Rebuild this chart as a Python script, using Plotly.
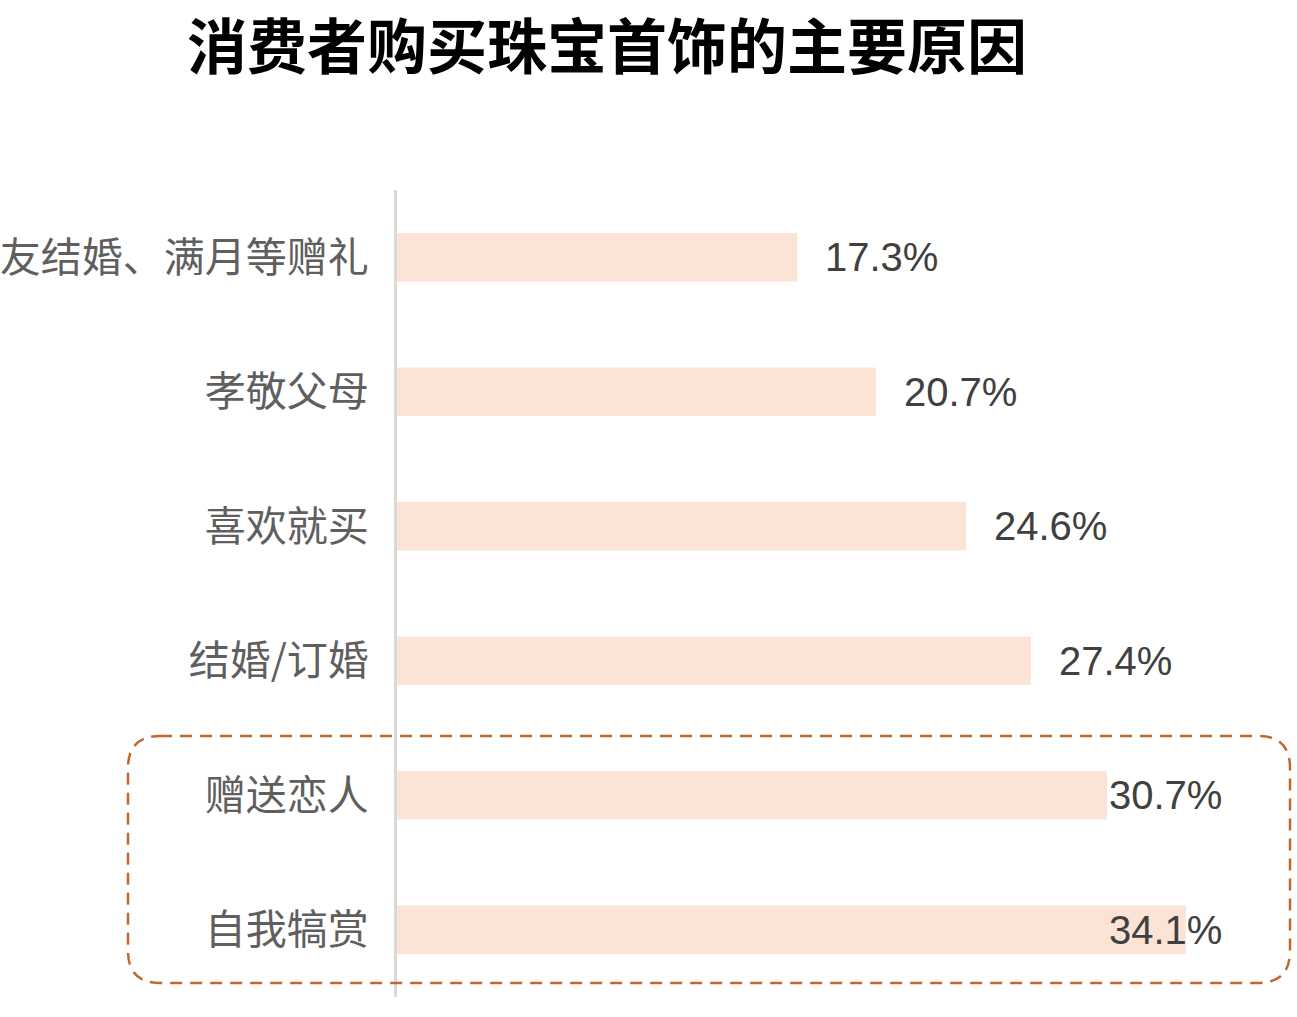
import plotly.graph_objects as go

categories = ["亲友结婚、满月等赠礼", "孝敬父母", "喜欢就买", "结婚/订婚", "赠送恋人", "自我犒赏"]
values = [17.3, 20.7, 24.6, 27.4, 30.7, 34.1]
value_labels = ["17.3%", "20.7%", "24.6%", "27.4%", "30.7%", "34.1%"]
title_text = "消费者购买珠宝首饰的主要原因"

W, H = 1297, 1017
L, R, T, B = 397, 21, 190, 20
XMAX = 38.0

fig = go.Figure()
fig.add_trace(go.Bar(
    y=categories, x=values, orientation="h",
    marker=dict(color="#FBE4D6", line=dict(width=0)),
    hoverinfo="skip",
))

# value labels: placed right of bar end, limited to a right boundary
pad = 1.12
label_max = 30.7
for c, v, t in zip(categories, values, value_labels):
    fig.add_annotation(
        x=min(v + pad, label_max), y=c, xref="x", yref="y",
        text=t, showarrow=False, xanchor="left", yanchor="middle",
        font=dict(family="Liberation Sans, Arial, sans-serif", size=40, color="#404040"),
    )

# dashed rounded box around the last two categories (paper coords)
pw = W - L - R
ph = H - T - B
def px_x(p):
    return (p - L) / pw
def px_y(p):
    return (H - B - p) / ph
x0, x1, y0, y1 = 128, 1290, 736, 983
r = 32
path = (
    f"M {px_x(x0 + r)},{px_y(y0)} "
    f"L {px_x(x1 - r)},{px_y(y0)} "
    f"Q {px_x(x1)},{px_y(y0)} {px_x(x1)},{px_y(y0 + r)} "
    f"L {px_x(x1)},{px_y(y1 - r)} "
    f"Q {px_x(x1)},{px_y(y1)} {px_x(x1 - r)},{px_y(y1)} "
    f"L {px_x(x0 + r)},{px_y(y1)} "
    f"Q {px_x(x0)},{px_y(y1)} {px_x(x0)},{px_y(y1 - r)} "
    f"L {px_x(x0)},{px_y(y0 + r)} "
    f"Q {px_x(x0)},{px_y(y0)} {px_x(x0 + r)},{px_y(y0)} Z"
)
fig.add_shape(type="path", path=path, xref="paper", yref="paper",
              line=dict(color="#C4672E", width=2.5, dash="12px,8px"), layer="above")

fig.update_layout(
    width=W, height=H,
    margin=dict(l=L, r=R, t=T, b=B, autoexpand=False),
    paper_bgcolor="white", plot_bgcolor="white",
    showlegend=False,
    bargap=0.64,
    title=dict(
        text=title_text, x=607 / W, xanchor="center", xref="container",
        y=1 - 48 / H, yanchor="middle", yref="container",
        font=dict(family="Noto Sans CJK SC", size=60, color="#000000", weight="bold"),
    ),
    xaxis=dict(range=[0, XMAX], visible=False, fixedrange=True),
    yaxis=dict(
        autorange="reversed", showline=True, linecolor="#D9D9D9", linewidth=3,
        showgrid=False, zeroline=False, ticks="", ticklabelstandoff=17,
        automargin=False,
        tickfont=dict(family="Noto Sans CJK SC", size=41, color="#5F5F5F"),
    ),
)

fig.write_html("out.html")
